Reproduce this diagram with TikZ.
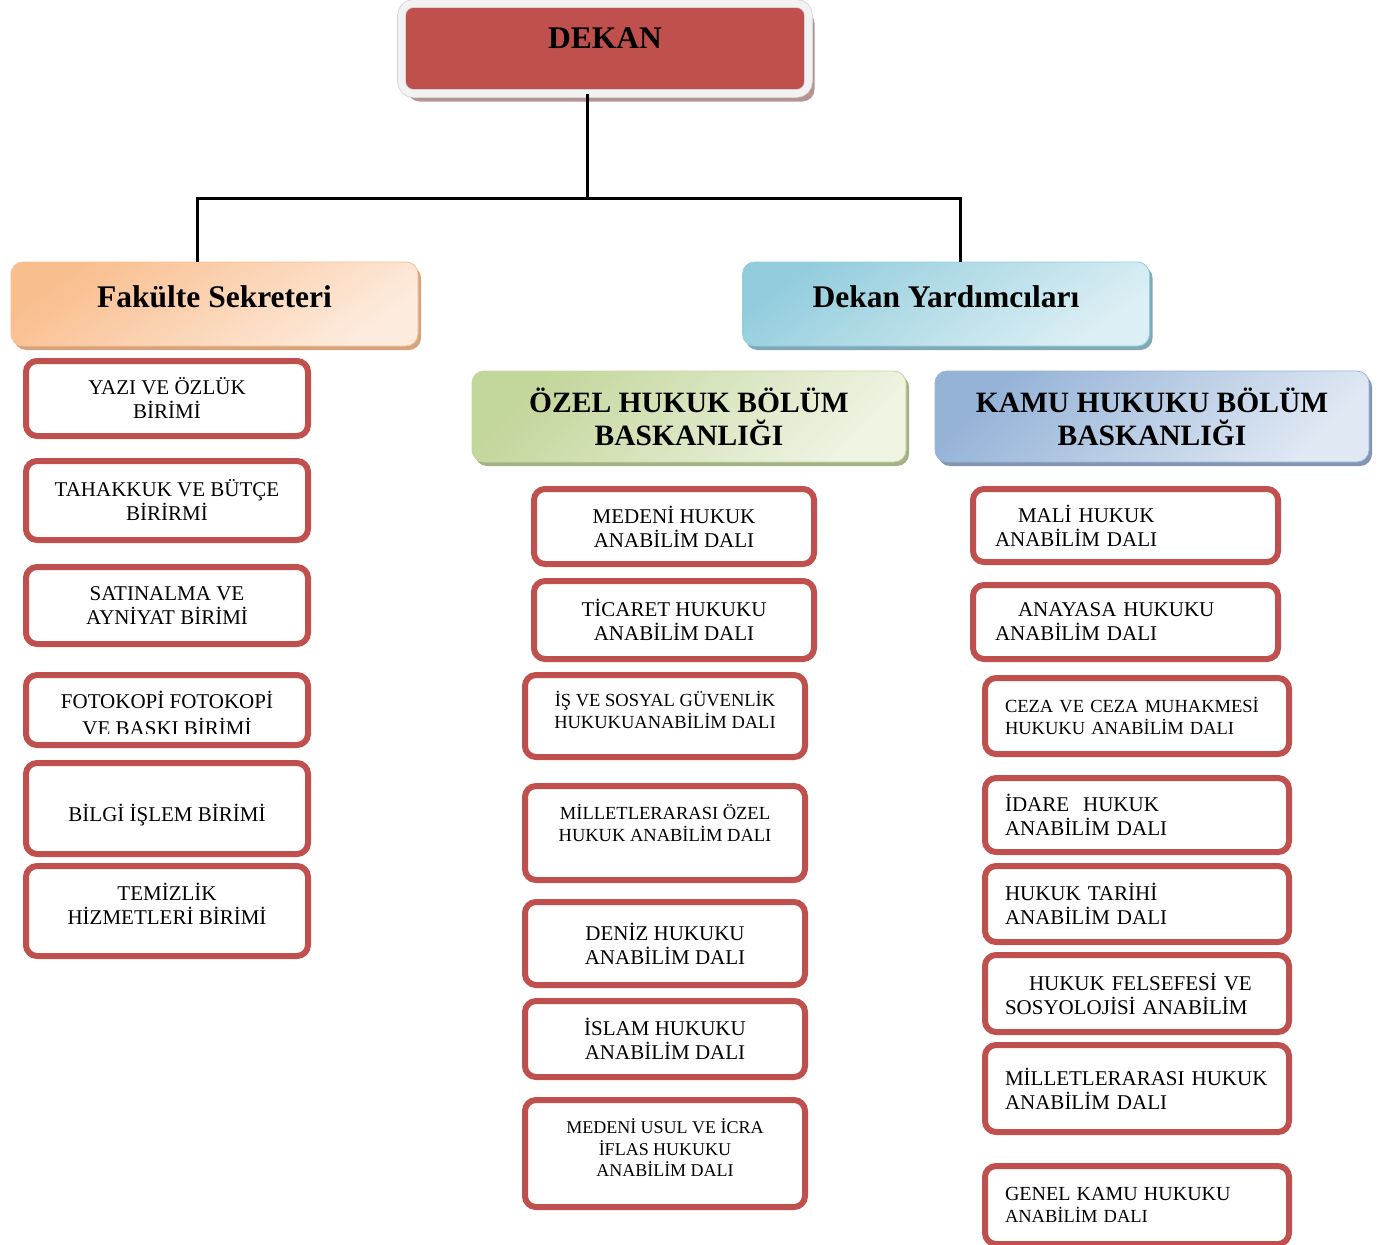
\documentclass[tikz,border=0pt]{standalone}
\usepackage{fontspec}
\setmainfont{Liberation Serif}
\usepackage{tikz}
\usetikzlibrary{shadows}
\definecolor{kirmizi}{HTML}{C0504D}
\definecolor{cerceve}{HTML}{F2F2F2}
\definecolor{dekangolge}{HTML}{B59493}
\definecolor{turuncu}{HTML}{F9BE8E}
\definecolor{turuncuacik}{HTML}{FDEBDD}
\definecolor{turuncugolge}{HTML}{D6A47C}
\definecolor{mavi}{HTML}{93CDDD}
\definecolor{maviacik}{HTML}{DCEFF4}
\definecolor{mavigolge}{HTML}{7FA9B6}
\definecolor{yesil}{HTML}{C3D69B}
\definecolor{yesilacik}{HTML}{EEF3E2}
\definecolor{yesilgolge}{HTML}{A3B286}
\definecolor{lacivert}{HTML}{95B3D7}
\definecolor{lacivertacik}{HTML}{DFE8F3}
\definecolor{lacivertgolge}{HTML}{8395B0}
\tikzset{birim/.style={draw=kirmizi, line width=6pt, rounded corners=11pt, fill=white, inner sep=0pt, align=center, font=\fontsize{21}{24}\selectfont}}
\tikzset{birimk/.style={birim, font=\fontsize{18.5}{22}\selectfont}}
\tikzset{dali/.style={birim, align=left, inner xsep=20pt, text width=264pt}}
\tikzset{dalik/.style={dali, font=\fontsize{18.5}{22}\selectfont}}
\tikzset{baslik/.style={rounded corners=12pt, line width=0.8pt, inner sep=0pt, font=\bfseries\fontsize{31.5}{34}\selectfont}}
\tikzset{bolum/.style={baslik, align=center, font=\bfseries\fontsize{29.5}{33}\selectfont}}
\tikzset{baglanti/.style={line width=3pt}}

\begin{document}
\begin{tikzpicture}[x=1pt,y=-1pt]
\useasboundingbox (0,0) rectangle (1385,1245);

% ust kademe
\node[baslik, fill=kirmizi, draw=gray!35, double=cerceve, double distance=7pt, minimum width=407pt, minimum height=90pt, text depth=21pt, general shadow={fill=dekangolge, shadow xshift=6pt, shadow yshift=-8pt}] (dekan) at (605,48.5) {DEKAN};
\node[baslik, top color=turuncu, bottom color=turuncuacik, shading angle=35, draw=turuncu, minimum width=407pt, minimum height=84pt, text depth=15pt, general shadow={fill=turuncugolge, shadow xshift=3pt, shadow yshift=-4pt}] (sekreter) at (214.5,304) {Fakülte Sekreteri};
\node[baslik, top color=mavi, bottom color=maviacik, shading angle=35, draw=mavi, minimum width=407pt, minimum height=84pt, text depth=15pt, general shadow={fill=mavigolge, shadow xshift=3pt, shadow yshift=-4pt}] (yardimci) at (946,304) {Dekan Yardımcıları};
\node[bolum, top color=yesil, bottom color=yesilacik, shading angle=45, draw=yesil, minimum width=434pt, minimum height=91pt, general shadow={fill=yesilgolge, shadow xshift=3pt, shadow yshift=-4pt}] (ozel) at (689,416.5) {ÖZEL HUKUK BÖLÜM\\BASKANLIĞI};
\node[bolum, top color=lacivert, bottom color=lacivertacik, shading angle=45, draw=lacivert, minimum width=434pt, minimum height=91pt, general shadow={fill=lacivertgolge, shadow xshift=3pt, shadow yshift=-4pt}] (kamu) at (1152,416.5) {KAMU HUKUKU BÖLÜM\\BASKANLIĞI};

\coordinate (ayrim) at (587,198);
\coordinate (solkol) at (197,198);
\coordinate (sagkol) at (960,198);
\draw[baglanti] (ayrim |- dekan.south) -- (ayrim);
\draw[baglanti] (solkol |- sekreter.north) -- (solkol) -- (sagkol) -- (sagkol |- yardimci.north);

% fakulte sekreteri birimleri
\node[birim, minimum width=282pt, minimum height=75pt] (yazi) at (167,398.5) {YAZI VE ÖZLÜK\\BİRİMİ};
\node[birim, minimum width=282pt, minimum height=79pt] (tahakkuk) at (167,500.5) {TAHAKKUK VE BÜTÇE\\BİRİRMİ};
\node[birim, minimum width=282pt, minimum height=77pt] (satinalma) at (167,605.5) {SATINALMA VE\\AYNİYAT BİRİMİ};
\node[birim, minimum width=282pt, minimum height=70pt] (fotokopi) at (167,710) {};
\begin{scope}
\clip (30,676) rectangle (305,733);
\node[font=\fontsize{21}{27}\selectfont, align=center, inner sep=0pt] (fotoyazi) at (167,713) {FOTOKOPİ FOTOKOPİ\\VE BASKI BİRİMİ};
\end{scope}
\node[birim, minimum width=282pt, minimum height=91pt, text height=25pt, text depth=0pt] (bilgi) at (167,808.5) {BİLGİ İŞLEM BİRİMİ};
\node[birim, minimum width=282pt, minimum height=90pt] (temizlik) at (167,911) {TEMİZLİK\\HİZMETLERİ BİRİMİ\\[-9pt]\mbox{}};

% ozel hukuk anabilim dallari
\node[birim, minimum width=280pt, minimum height=75pt] (medeni) at (674,526.5) {MEDENİ HUKUK\\ANABİLİM DALI};
\node[birim, minimum width=280pt, minimum height=78pt] (ticaret) at (674,620) {TİCARET HUKUKU\\ANABİLİM DALI};
\node[birimk, minimum width=280pt, minimum height=82pt] (isvesosyal) at (665,716) {İŞ VE SOSYAL GÜVENLİK\\HUKUKUANABİLİM DALI\\[-10pt]\mbox{}};
\node[birimk, minimum width=280pt, minimum height=94pt] (milozel) at (665,833) {MİLLETLERARASI ÖZEL\\HUKUK ANABİLİM DALI\\[-2pt]\mbox{}};
\node[birim, minimum width=280pt, minimum height=83pt] (deniz) at (665,943.5) {DENİZ HUKUKU\\ANABİLİM DALI};
\node[birim, minimum width=280pt, minimum height=76pt] (islam) at (665,1039) {İSLAM HUKUKU\\ANABİLİM DALI};
\node[birimk, font=\fontsize{18}{21.5}\selectfont, minimum width=280pt, minimum height=107pt] (usul) at (665,1153.5) {MEDENİ USUL VE İCRA\\İFLAS HUKUKU\\ANABİLİM DALI\\[-10pt]\mbox{}};

% kamu hukuku anabilim dallari
\node[dali, inner xsep=22pt, text width=261pt, minimum width=305pt, minimum height=73pt] (mali) at (1125.5,525.5) {\hspace*{23pt}MALİ HUKUK\\ANABİLİM DALI};
\node[dali, inner xsep=22pt, text width=261pt, minimum width=305pt, minimum height=74pt] (anayasa) at (1125.5,622) {\hspace*{23pt}ANAYASA HUKUKU\\ANABİLİM DALI};
\node[dalik, minimum width=304pt, minimum height=76pt] (ceza) at (1137,716) {CEZA VE CEZA MUHAKMESİ\\HUKUKU ANABİLİM DALI};
\node[dali, minimum width=304pt, minimum height=74pt] (idare) at (1137,815) {İDARE~~HUKUK\\ANABİLİM DALI};
\node[dali, minimum width=304pt, minimum height=76pt] (tarih) at (1137,904) {HUKUK TARİHİ\\ANABİLİM DALI};
\node[dali, minimum width=304pt, minimum height=77pt] (felsefe) at (1137,993.5) {\hspace*{24pt}HUKUK FELSEFESİ VE\\SOSYOLOJİSİ ANABİLİM};
\node[dali, minimum width=304pt, minimum height=87pt] (milhukuk) at (1137,1088.5) {MİLLETLERARASI HUKUK\\ANABİLİM DALI};
\node[dalik, minimum width=304pt, minimum height=78pt] (genel) at (1137,1205) {{\fontsize{20}{22}\selectfont GENEL KAMU HUKUKU}\\ANABİLİM DALI};

\end{tikzpicture}
\end{document}
